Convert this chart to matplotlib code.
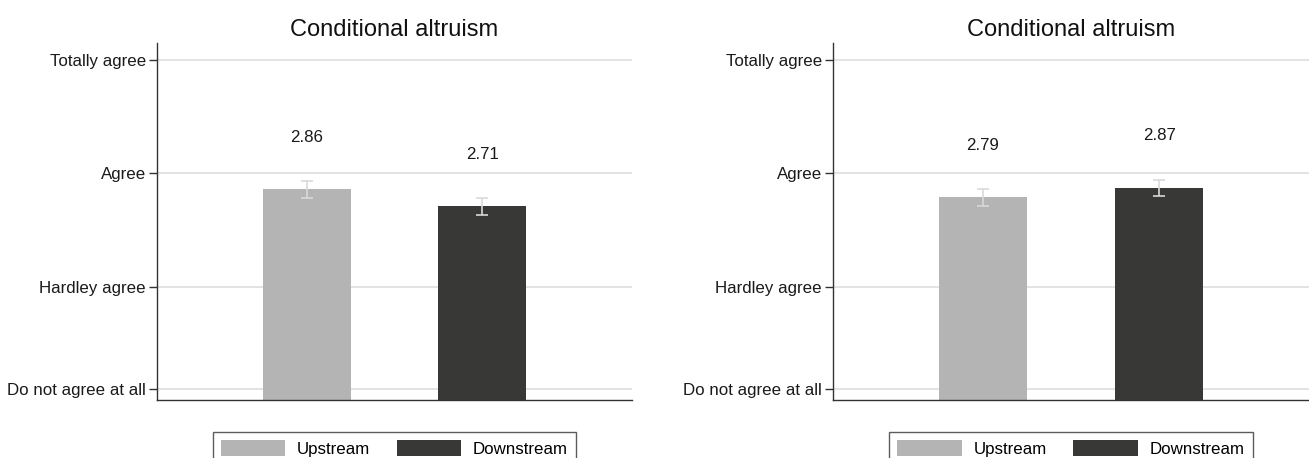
import matplotlib
matplotlib.use("Agg")
import matplotlib.pyplot as plt
from matplotlib.patches import Patch

plt.rcParams['font.family'] = ['Liberation Sans', 'DejaVu Sans']

# Data
groups = ["Upstream", "Downstream"]
panel_titles = ["Conditional altruism", "Conditional altruism"]
means_left = [2.86, 2.71]
means_right = [2.79, 2.87]
ci_left = [0.075, 0.076]
ci_right = [0.076, 0.073]
tick_values = [1.1, 2, 3, 4]
tick_labels = ["Do not agree at all", "Hardley agree", "Agree", "Totally agree"]

colors = ["#b4b4b4", "#383836"]
err_color = "#d9d9d9"

fig = plt.figure(figsize=(13.09, 4.58), dpi=100)
W, H = 1309, 458
ax_specs = [(157, 475), (833, 476)]
top_px, bot_px = 43, 400
fs = 12.2

panels = [(means_left, ci_left), (means_right, ci_right)]
for (left_px, width_px), (means, cis), title in zip(ax_specs, panels, panel_titles):
    ax = fig.add_axes([left_px / W, (H - bot_px) / H, width_px / W, (bot_px - top_px) / H])
    x = list(range(len(means)))
    ax.bar(x, [m - 1.0 for m in means], bottom=1.0, width=0.5, color=colors, zorder=2)
    ax.errorbar(x, means, yerr=cis, fmt="none", ecolor=err_color, elinewidth=1.2,
                capsize=4, capthick=1.2, zorder=3)
    for xi, m in zip(x, means):
        ax.text(xi, m + 0.46, f"{m:.2f}", ha="center", va="center", fontsize=fs, color="#1a1a1a")
    ax.set_xlim(-0.85, 1.85)
    ax.set_ylim(1.0, 4.15)
    ax.set_yticks(tick_values)
    ax.set_yticklabels(tick_labels, fontsize=fs, color="#1a1a1a")
    ax.set_xticks([])
    ax.yaxis.grid(True, color="#e0e0e0", linewidth=1.3, zorder=0)
    ax.set_axisbelow(True)
    for s in ["top", "right"]:
        ax.spines[s].set_visible(False)
    for s in ["left", "bottom"]:
        ax.spines[s].set_color("#333333")
        ax.spines[s].set_linewidth(1.0)
    ax.tick_params(axis="y", length=6, width=1.0, color="#333333", pad=2)
    ax.set_title(title, fontsize=17, pad=5, color="#111111")

    handles = [Patch(facecolor=c, edgecolor="none") for c in colors]
    leg = ax.legend(handles, groups, loc="upper center",
                    bbox_to_anchor=(0.5, -(432 - bot_px) / (bot_px - top_px)),
                    ncol=2, frameon=True, fancybox=False, fontsize=fs,
                    handlelength=3.8, handleheight=1.0, handletextpad=0.7,
                    columnspacing=1.55, borderpad=0.5, borderaxespad=0)
    leg.get_frame().set_edgecolor("#333333")
    leg.get_frame().set_linewidth(1.0)

fig.savefig("out.png", dpi=100)
